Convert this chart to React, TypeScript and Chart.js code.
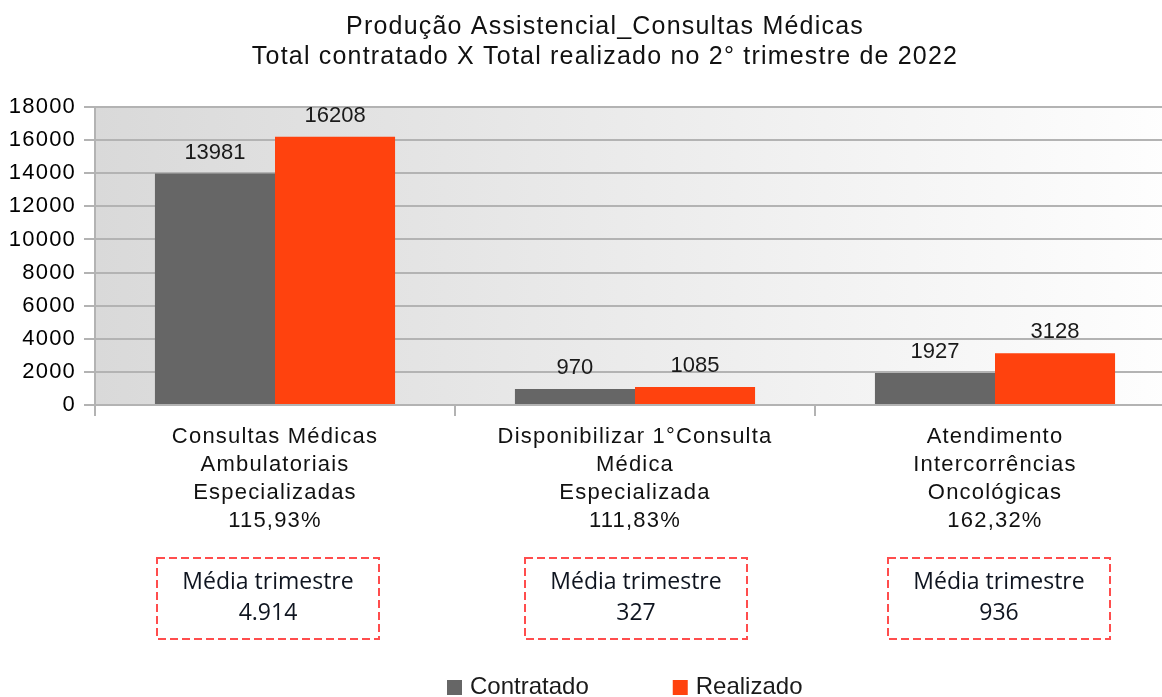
import React, { useEffect, useRef } from "react";
import { Chart, registerables } from "chart.js";

Chart.register(...registerables);

const titleLines = [
  "Produção Assistencial_Consultas Médicas",
  "Total contratado X Total realizado no 2° trimestre de 2022",
];
const categoryNames = [
  ["Consultas Médicas", "Ambulatoriais", "Especializadas"],
  ["Disponibilizar 1°Consulta", "Médica", "Especializada"],
  ["Atendimento", "Intercorrências", "Oncológicas"],
];
const percentages = ["115,93%", "111,83%", "162,32%"];
const contratado = [13981, 970, 1927];
const realizado = [16208, 1085, 3128];
const mediaTrimestre = ["4.914", "327", "936"];
const seriesNames = ["Contratado", "Realizado"];
const seriesColors = ["#666666", "#ff420e"];
const yMin = 0;
const yMax = 18000;
const yStep = 2000;

const FONT = "'Liberation Sans', Arial, sans-serif";
const boxOffsets = [-7, 1, 4];

const bgPlugin = {
  id: "bgPlugin",
  beforeDraw(chart: any) {
    const { ctx, chartArea } = chart;
    ctx.save();
    ctx.fillStyle = "#ffffff";
    ctx.fillRect(0, 0, chart.width, chart.height);
    const g = ctx.createLinearGradient(chartArea.left, 0, chartArea.right, 0);
    g.addColorStop(0, "#d9d9d9");
    g.addColorStop(1, "#fefefe");
    ctx.fillStyle = g;
    ctx.fillRect(chartArea.left, chartArea.top, chartArea.right - chartArea.left, chartArea.bottom - chartArea.top);
    ctx.restore();
    (ctx as any).letterSpacing = "1.2px";
  },
};

const valueLabelPlugin = {
  id: "valueLabelPlugin",
  afterDatasetsDraw(chart: any) {
    const { ctx } = chart;
    ctx.save();
    (ctx as any).letterSpacing = "0px";
    ctx.font = `22px ${FONT}`;
    ctx.fillStyle = "#1a1a1a";
    ctx.textAlign = "center";
    ctx.textBaseline = "middle";
    chart.data.datasets.forEach((ds: any, di: number) => {
      const meta = chart.getDatasetMeta(di);
      meta.data.forEach((bar: any, i: number) => {
        ctx.fillText(String(ds.data[i]), bar.x, bar.y - 21);
      });
    });
    ctx.restore();
  },
};

const extrasPlugin = {
  id: "extrasPlugin",
  afterDraw(chart: any) {
    const { ctx, chartArea } = chart;
    const xs = chart.scales.x;
    ctx.save();
    (ctx as any).letterSpacing = "0px";
    const boxW = 222;
    const boxH = 81;
    const boxTop = chartArea.bottom + 153;
    mediaTrimestre.forEach((v, i) => {
      const cx = xs.getPixelForValue(i) + boxOffsets[i];
      ctx.setLineDash([8, 4]);
      ctx.strokeStyle = "#ff4d4d";
      ctx.lineWidth = 2;
      ctx.strokeRect(cx - boxW / 2, boxTop, boxW, boxH);
      ctx.setLineDash([]);
      ctx.fillStyle = "#0f1520";
      ctx.textAlign = "center";
      ctx.textBaseline = "middle";
      ctx.font = `23px 'Open Sans', Lato, sans-serif`;
      ctx.fillText("Média trimestre", cx, boxTop + 24);
      ctx.fillText(v, cx, boxTop + 55);
    });
    ctx.font = `24px ${FONT}`;
    ctx.textAlign = "left";
    ctx.textBaseline = "middle";
    const ly = 687;
    let lx = 447;
    seriesNames.forEach((name, i) => {
      ctx.fillStyle = seriesColors[i];
      ctx.fillRect(lx, ly - 7, 15, 15);
      ctx.fillStyle = "#1a1a1a";
      ctx.fillText(name, lx + 23, ly);
      lx += 23 + ctx.measureText(name).width + 84;
    });
    ctx.restore();
  },
};

export default function App() {
  const ref = useRef<HTMLCanvasElement | null>(null);
  useEffect(() => {
    if (!ref.current) return;
    const labels = categoryNames.map((c, i) => [...c, percentages[i]]);
    const chart = new Chart(ref.current, {
      type: "bar",
      data: {
        labels,
        datasets: [
          { label: seriesNames[0], data: contratado, backgroundColor: seriesColors[0] },
          { label: seriesNames[1], data: realizado, backgroundColor: seriesColors[1] },
        ],
      },
      options: {
        animation: false,
        responsive: false,
        devicePixelRatio: 1,
        layout: { padding: { left: 0, right: 0, top: 0, bottom: 0 } },
        datasets: { bar: { categoryPercentage: 0.667, barPercentage: 1 } },
        plugins: {
          legend: { display: false },
          tooltip: { enabled: false },
          title: {
            display: true,
            text: titleLines,
            color: "#111111",
            font: { family: FONT, size: 25, weight: "normal", lineHeight: 1.2 },
            padding: { top: 12, bottom: 35 },
          },
        },
        scales: {
          x: {
            grid: { drawOnChartArea: false, drawTicks: true, tickLength: 11, color: "#b3b3b3", lineWidth: 2, offset: true },
            border: { color: "#b3b3b3", width: 2 },
            ticks: {
              color: "#111111",
              padding: 7,
              maxRotation: 0,
              autoSkip: false,
              font: { family: FONT, size: 22, lineHeight: 1.27 },
            },
            afterFit: (s: any) => { s.height = 292; },
          },
          y: {
            min: yMin,
            max: yMax,
            ticks: {
              stepSize: yStep,
              color: "#000000",
              padding: 8,
              font: { family: FONT, size: 22 },
              callback: (v: any) => String(v),
            },
            grid: { color: "#b3b3b3", lineWidth: 2, tickLength: 11 },
            border: { color: "#b3b3b3", width: 2 },
            afterFit: (s: any) => { s.width = 95; },
          },
          yRight: {
            position: "right",
            display: true,
            min: yMin,
            max: yMax,
            ticks: { display: false },
            grid: { display: false, drawOnChartArea: false },
            border: { display: false },
            afterFit: (s: any) => { s.width = 35; },
          },
        },
      },
      plugins: [bgPlugin, valueLabelPlugin, extrasPlugin],
    });
    return () => chart.destroy();
  }, []);
  return (
    <div style={{ position: "fixed", left: 0, top: 0, width: 1162, height: 697, overflow: "hidden", background: "#fff" }}>
      <canvas ref={ref} width={1210} height={697} style={{ display: "block" }} />
    </div>
  );
}
